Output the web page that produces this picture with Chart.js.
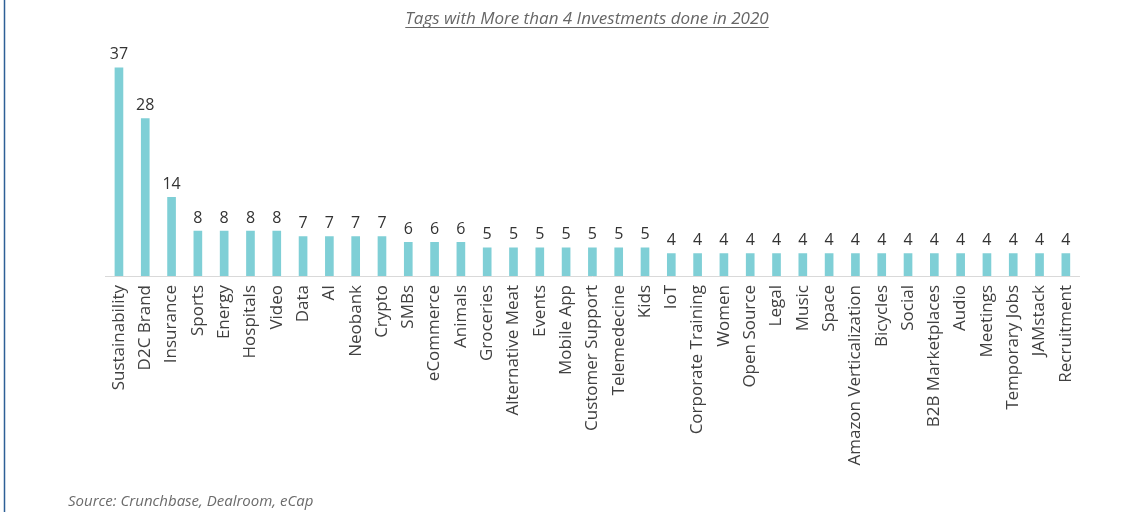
<!DOCTYPE html>
<html><head><meta charset="utf-8">
<script src="https://cdn.jsdelivr.net/npm/chart.js@4.4.1/dist/chart.umd.min.js"></script>
<style>html,body{margin:0;padding:0;background:#fff;}#wrap{width:1130px;height:512px;position:relative;}</style>
</head><body><div id="wrap"><canvas id="c" width="1130" height="512"></canvas></div>
<script>
const categories = ["Sustainability","D2C Brand","Insurance","Sports","Energy","Hospitals","Video","Data","AI","Neobank","Crypto","SMBs","eCommerce","Animals","Groceries","Alternative Meat","Events","Mobile App","Customer Support","Telemedecine","Kids","IoT","Corporate Training","Women","Open Source","Legal","Music","Space","Amazon Verticalization","Bicycles","Social","B2B Marketplaces","Audio","Meetings","Temporary Jobs","JAMstack","Recruitment"];
const investments = [37,28,14,8,8,8,8,7,7,7,7,6,6,6,5,5,5,5,5,5,5,4,4,4,4,4,4,4,4,4,4,4,4,4,4,4,4];
const titleText = "Tags with More than 4 Investments done in 2020";
const sourceText = "Source: Crunchbase, Dealroom, eCap";
const FONT = "'Open Sans', sans-serif";

const deco = {
  id: 'deco',
  afterDatasetsDraw(chart) {
    const ctx = chart.ctx;
    const meta = chart.getDatasetMeta(0);
    ctx.save();
    ctx.fillStyle = '#333333';
    ctx.font = "16px " + FONT;
    ctx.textAlign = 'center';
    ctx.textBaseline = 'bottom';
    meta.data.forEach((bar, i) => {
      ctx.fillText(String(investments[i]), bar.x, bar.y - 5);
    });
    ctx.restore();
  },
  afterDraw(chart) {
    const ctx = chart.ctx;
    ctx.save();
    ctx.strokeStyle = '#2d5f96';
    ctx.lineWidth = 1.5;
    ctx.beginPath(); ctx.moveTo(4.5, 0); ctx.lineTo(4.5, 512); ctx.stroke();
    ctx.fillStyle = '#666666';
    ctx.font = "italic 17px " + FONT;
    ctx.textAlign = 'center';
    ctx.textBaseline = 'alphabetic';
    const tx = 587, ty = 24;
    ctx.fillText(titleText, tx, ty);
    const w = ctx.measureText(titleText).width;
    ctx.strokeStyle = '#666666';
    ctx.lineWidth = 1;
    ctx.beginPath(); ctx.moveTo(tx - w/2, ty + 3.5); ctx.lineTo(tx + w/2, ty + 3.5); ctx.stroke();
    ctx.textAlign = 'left';
    ctx.font = "italic 15px " + FONT;
    ctx.fillStyle = '#6b6b6b';
    ctx.fillText(sourceText, 68, 506);
    ctx.restore();
  }
};

new Chart(document.getElementById('c'), {
  type: 'bar',
  data: {
    labels: categories,
    datasets: [{
      data: investments,
      backgroundColor: '#7fcfd6',
      barThickness: 8
    }]
  },
  options: {
    responsive: false,
    animation: false,
    layout: { padding: { top: 51, left: 105.8, right: 51, bottom: 0 } },
    plugins: { legend: { display: false }, tooltip: { enabled: false }, title: { display: false } },
    scales: {
      x: {
        offset: true,
        grid: { display: false, drawTicks: false },
        border: { display: true, color: '#d9d9d9', width: 1 },
        ticks: {
          color: '#404040',
          font: { family: FONT, size: 17 },
          minRotation: 90, maxRotation: 90,
          autoSkip: false,
          padding: 9
        },
        afterFit(scale) { scale.height = 512 - 276; }
      },
      y: {
        display: false,
        min: 0, max: 40
      }
    }
  },
  plugins: [deco]
});
</script></body></html>
